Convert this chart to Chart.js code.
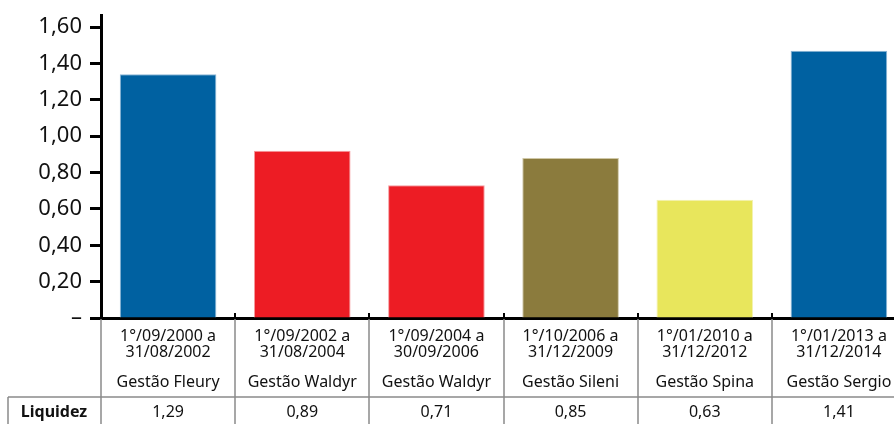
<!DOCTYPE html>
<html>
<head>
<meta charset="utf-8">
<script src="https://cdn.jsdelivr.net/npm/chart.js@4/dist/chart.umd.min.js"></script>
<style>
  html, body { margin: 0; padding: 0; background: #fff; overflow: hidden; }
  #wrap { width: 906px; height: 424px; }
</style>
</head>
<body>
<div id="wrap"><canvas id="chart" width="906" height="424"></canvas></div>
<script>
// periods and management names (x axis)
const periods = [
  ['1°/09/2000 a', '31/08/2002'],
  ['1°/09/2002 a', '31/08/2004'],
  ['1°/09/2004 a', '30/09/2006'],
  ['1°/10/2006 a', '31/12/2009'],
  ['1°/01/2010 a', '31/12/2012'],
  ['1°/01/2013 a', '31/12/2014']
];
const gestoes = ['Gestão Fleury', 'Gestão Waldyr', 'Gestão Waldyr', 'Gestão Sileni', 'Gestão Spina', 'Gestão Sergio'];

// bar heights as drawn against the axis
const barValues = [1.34, 0.92, 0.73, 0.88, 0.65, 1.47];
// values printed in the table row
const liquidez = ['1,29', '0,89', '0,71', '0,85', '0,63', '1,41'];

const barColors = ['#0061A1', '#ED1C24', '#ED1C24', '#8B7B3D', '#E8E65C', '#0061A1'];
const barEdges = ['#8CB6D6', '#F59A9E', '#F59A9E', '#CFC7A6', '#F3F2B0', '#8CB6D6'];

const FONT = '"Noto Sans", sans-serif';

const labels = periods.map((p, i) => [p[0], p[1], '', gestoes[i]]);

// draws the table lines, the Liquidez row and the small up-ticks on the x axis
const tablePlugin = {
  id: 'table',
  afterDraw(chart) {
    const ctx = chart.ctx;
    const x = chart.scales.x;
    const axisY = x.top;
    const bottom = chart.height;
    const rowY = 397;
    const n = labels.length;
    const step = x.getPixelForValue(1) - x.getPixelForValue(0);
    ctx.save();

    // upward ticks between categories
    ctx.strokeStyle = '#000';
    ctx.lineWidth = 2;
    for (let i = 1; i < n; i++) {
      const bx = Math.round(x.getPixelForValue(i) - step / 2);
      ctx.beginPath();
      ctx.moveTo(bx, axisY - 5);
      ctx.lineTo(bx, axisY);
      ctx.stroke();
    }

    // table grid
    ctx.strokeStyle = '#8a8a8a';
    ctx.lineWidth = 1.5;
    for (let i = 0; i < n; i++) {
      const bx = Math.round(x.getPixelForValue(i) - step / 2);
      ctx.beginPath();
      ctx.moveTo(bx, axisY + 1);
      ctx.lineTo(bx, bottom);
      ctx.stroke();
    }
    ctx.beginPath();
    ctx.moveTo(8, rowY);
    ctx.lineTo(chart.width, rowY);
    ctx.moveTo(8, rowY);
    ctx.lineTo(8, bottom);
    ctx.stroke();

    // Liquidez row
    ctx.fillStyle = '#111';
    ctx.textAlign = 'center';
    ctx.textBaseline = 'middle';
    ctx.font = 'bold 16px ' + FONT;
    ctx.fillText('Liquidez', 54, 412);
    ctx.font = '16px ' + FONT;
    liquidez.forEach((v, i) => {
      ctx.fillText(v, x.getPixelForValue(i), 412);
    });
    ctx.restore();
  }
};

new Chart(document.getElementById('chart'), {
  type: 'bar',
  data: {
    labels: labels,
    datasets: [{
      data: barValues,
      backgroundColor: barColors,
      borderColor: barEdges,
      borderWidth: 1,
      borderSkipped: 'bottom',
      barPercentage: 0.72,
      categoryPercentage: 1
    }]
  },
  options: {
    responsive: false,
    animation: false,
    layout: { padding: { top: 15, left: 0, right: 0, bottom: 0 } },
    plugins: {
      legend: { display: false },
      tooltip: { enabled: false }
    },
    scales: {
      x: {
        offset: true,
        grid: { display: false, drawTicks: false },
        border: { color: '#000', width: 3 },
        ticks: {
          color: '#111',
          padding: 11,
          maxRotation: 0,
          autoSkip: false,
          font: { family: FONT, size: 16, lineHeight: 0.96 }
        },
        afterFit(scale) { scale.height = 106; }
      },
      y: {
        min: 0,
        max: 1.666,
        grid: {
          drawOnChartArea: false,
          drawTicks: true,
          tickLength: 11,
          tickWidth: 3,
          tickColor: '#000'
        },
        border: { color: '#000', width: 3 },
        ticks: {
          stepSize: 0.2,
          includeBounds: false,
          color: '#111',
          padding: 8,
          font: { family: FONT, size: 22 },
          callback: v => v === 0 ? '–' : v.toFixed(2).replace('.', ',')
        },
        afterFit(scale) {
          scale.width = 101;
          scale.paddingTop = 0;
          scale.paddingBottom = 0;
        }
      }
    }
  },
  plugins: [tablePlugin]
});
</script>
</body>
</html>
